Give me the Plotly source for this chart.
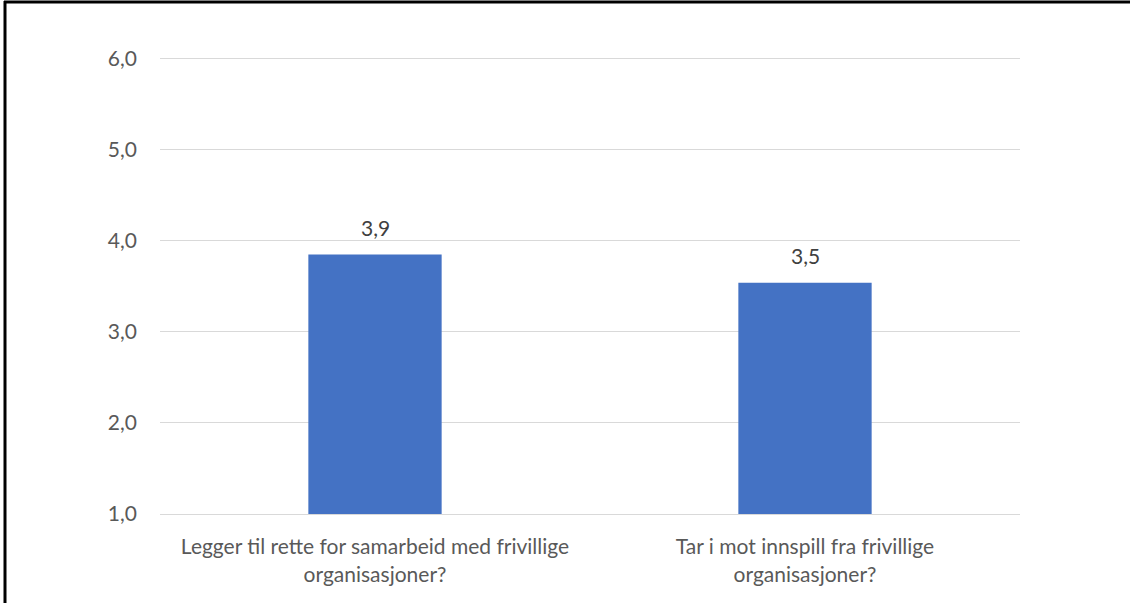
import plotly.graph_objects as go

categories = ["Legger til rette for samarbeid med frivillige<br>organisasjoner?",
              "Tar i mot innspill fra frivillige<br>organisasjoner?"]
values = [3.85, 3.54]
labels = ["3,9", "3,5"]
tick_vals = [1, 2, 3, 4, 5, 6]

FONT = "Lato"
TXT = "#595959"
FS = 21

fig = go.Figure()
fig.add_trace(go.Bar(x=categories, y=values, width=0.31, marker=dict(color="#4472c4", line=dict(width=0)),
                     hoverinfo="skip"))

for c, v, l in zip(categories, values, labels):
    fig.add_annotation(x=c, y=v, text=l, showarrow=False, yanchor="bottom", yshift=13,
                       font=dict(family=FONT, size=FS, color="#404040"))

L, R, T, B = 160, 110, 57, 89
W, H = 1130, 603
pw, ph = W - L - R, H - T - B

def px(x):
    return (x - L) / pw

def py(y):
    return (H - B - y) / ph

fig.add_shape(type="line", xref="paper", yref="paper", x0=px(5), x1=px(5), y0=py(H + 5), y1=py(1),
              line=dict(color="black", width=3))
fig.add_shape(type="line", xref="paper", yref="paper", x0=px(4), x1=px(W + 5), y0=py(2), y1=py(2),
              line=dict(color="black", width=3))

fig.update_layout(
    width=W, height=H,
    margin=dict(l=L, r=R, t=T, b=B),
    paper_bgcolor="white", plot_bgcolor="white",
    separators=", ",
    showlegend=False,
    font=dict(family=FONT, size=FS, color=TXT),
    xaxis=dict(showgrid=False, showline=True, linecolor="#d9d9d9", linewidth=1, ticks="",
               ticklabelstandoff=14, tickfont=dict(family=FONT, size=FS, color=TXT)),
    yaxis=dict(range=[1, 6.02], tickvals=tick_vals, tickformat=".1f", showgrid=True, gridcolor="#d9d9d9",
               gridwidth=1, zeroline=False, showline=False, ticks="", ticklabelstandoff=22,
               tickfont=dict(family=FONT, size=FS, color=TXT)),
)

fig.write_html("out.html", config={"displayModeBar": False, "staticPlot": True},
               post_script="document.body.style.margin='0px';document.body.style.overflow='hidden';")
